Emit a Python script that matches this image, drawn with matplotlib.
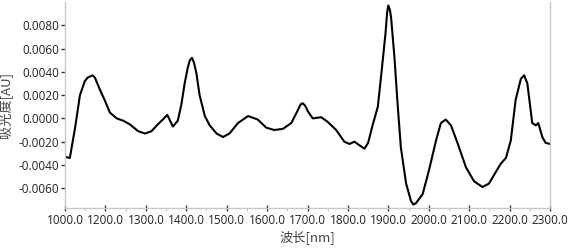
import numpy as np
import matplotlib
matplotlib.use("Agg")
import matplotlib.pyplot as plt
from matplotlib.ticker import MultipleLocator

plt.rcParams['font.family'] = ['Open Sans', 'Noto Sans CJK SC', 'DejaVu Sans']

# spectrum (wavelength nm, absorbance AU)
wavelength = [1100, 1112, 1125, 1137, 1149, 1156, 1162, 1168, 1174, 1186, 1199, 1211,
              1228, 1244, 1260, 1281, 1298, 1314, 1330, 1342, 1353, 1367,
              1379, 1388, 1396, 1404, 1409, 1414, 1419, 1425, 1433, 1446, 1458, 1475,
              1491, 1507, 1528, 1553, 1577, 1598, 1618, 1639, 1660, 1676,
              1683, 1688, 1694, 1701, 1713, 1734, 1750, 1771, 1791, 1804, 1816, 1828,
              1841, 1850, 1861, 1874, 1882, 1893, 1897, 1900, 1904, 1907, 1915, 1923,
              1931, 1944, 1956, 1962, 1968, 1985, 2001, 2018, 2030, 2042, 2055,
              2071, 2092, 2112, 2133, 2149, 2166, 2178, 2191, 2203, 2215,
              2228, 2236, 2244, 2256, 2265, 2271, 2281, 2289, 2300]
absorb = [-0.0033, -0.0034, -0.0008, 0.0020, 0.0032, 0.0035, 0.0036, 0.0037, 0.0035, 0.0025, 0.0015, 0.0005,
          0.0000, -0.0002, -0.0005, -0.0011, -0.0013, -0.0011, -0.0005, -0.0001, 0.0003, -0.0007,
          -0.0002, 0.0012, 0.0030, 0.0044, 0.0050, 0.0052, 0.0048, 0.0039, 0.0020, 0.0002, -0.0006, -0.0013,
          -0.0016, -0.0013, -0.0004, 0.0002, -0.0001, -0.0008, -0.0010, -0.0009, -0.0004, 0.0007,
          0.0012, 0.0013, 0.0011, 0.0006, 0.0000, 0.0001, -0.0003, -0.0010, -0.0020, -0.0022, -0.0020, -0.0023,
          -0.0026, -0.0021, -0.0006, 0.0010, 0.0036, 0.0073, 0.0091, 0.0097, 0.0093, 0.0086, 0.0053, 0.0012,
          -0.0025, -0.0056, -0.0071, -0.0074, -0.0073, -0.0065, -0.0044, -0.0019, -0.0004, -0.0001, -0.0006,
          -0.0021, -0.0042, -0.0054, -0.0059, -0.0056, -0.0046, -0.0039, -0.0034, -0.0019, 0.0016,
          0.0034, 0.0037, 0.0030, -0.0004, -0.0006, -0.0004, -0.0016, -0.0021, -0.0022]

xticks = [1100, 1200, 1300, 1400, 1500, 1600, 1700, 1800, 1900, 2000, 2100, 2200, 2300]
xlabels = ['1000.0', '1200.0', '1300.0', '1400.0', '1500.0', '1600.0', '1700.0',
           '1800.0', '1900.0', '2000.0', '2100.0', '2200.0', '2300.0']
yticks = [-0.006, -0.004, -0.002, 0.0, 0.002, 0.004, 0.006, 0.008]

fig = plt.figure(figsize=(5.79, 2.48), dpi=100)
ax = fig.add_axes([65/579, 40/248, 485/579, 206/248])

ax.plot(wavelength, absorb, color='black', lw=1.5, solid_joinstyle='round')

ax.set_xlim(1100, 2300)
ax.set_ylim(-0.0077, 0.0100)
ax.set_xticks(xticks)
ax.set_xticklabels(xlabels)
ax.xaxis.set_minor_locator(MultipleLocator(50))
ax.set_yticks(yticks)
ax.set_yticklabels(['%.4f' % v for v in yticks])

for s in ['left', 'bottom', 'right']:
    ax.spines[s].set_color('#c8c8c8')
    ax.spines[s].set_linewidth(1.0)
ax.spines['top'].set_visible(False)

ax.tick_params(axis='x', which='major', direction='inout', length=5, width=1,
               color='#333333', labelsize=8.5, labelcolor='#222222', pad=2)
ax.tick_params(axis='x', which='minor', direction='out', length=2, color='#bbbbbb')
ax.tick_params(axis='y', direction='out', length=3, width=1, color='#333333',
               labelsize=8.5, labelcolor='#222222', pad=1)

ax.set_xlabel('波长[nm]', fontsize=9.5, color='#444444', labelpad=2,
              family=['Noto Sans CJK SC', 'DejaVu Sans'])
ax.set_ylabel('吸光度[AU]', fontsize=9.5, color='#444444', labelpad=4,
              family=['Noto Sans CJK SC', 'DejaVu Sans'])

fig.savefig('out.png', dpi=100)
